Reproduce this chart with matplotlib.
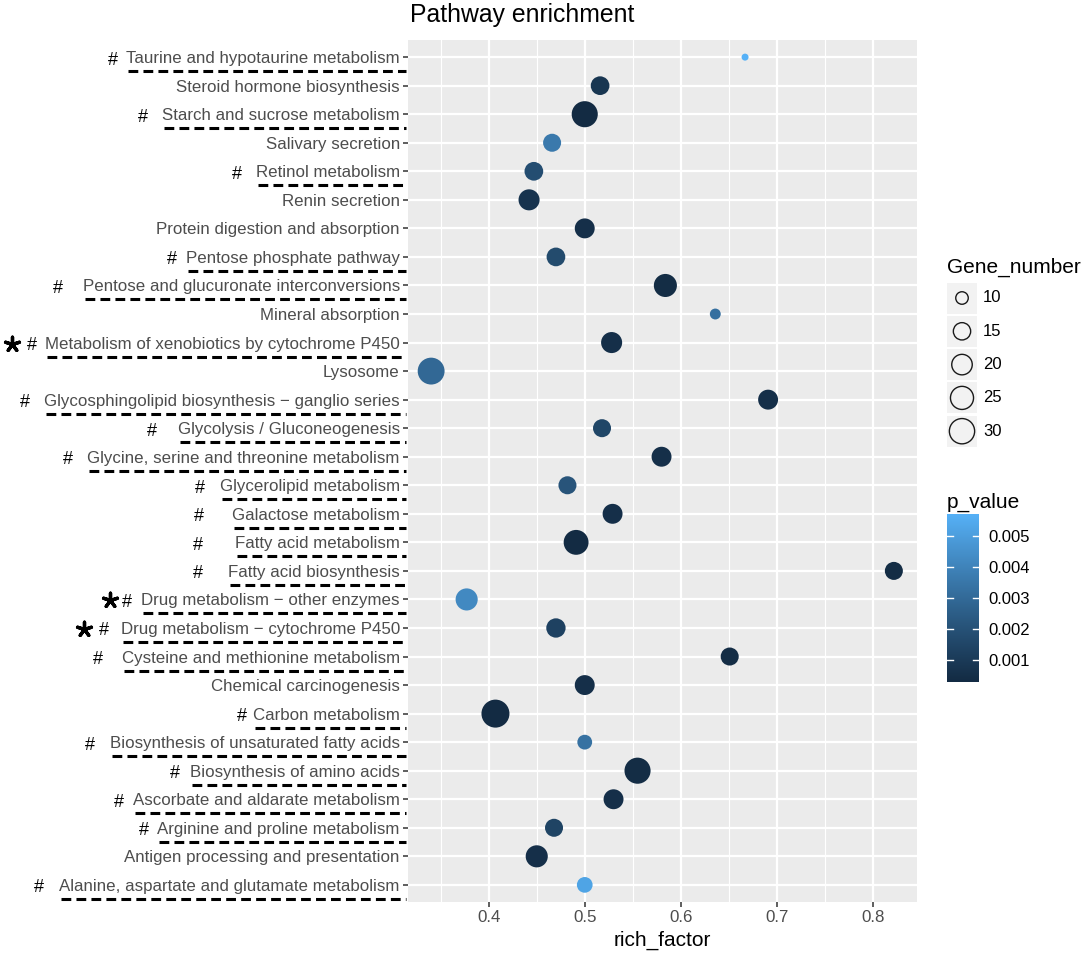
import numpy as np
import matplotlib
matplotlib.use('Agg')
import matplotlib.pyplot as plt
from matplotlib.colors import ListedColormap
from matplotlib.patches import Rectangle

plt.rcParams['font.family'] = ['Liberation Sans', 'DejaVu Sans']

# pathways, top to bottom as shown
pathways = [
    'Taurine and hypotaurine metabolism',
    'Steroid hormone biosynthesis',
    'Starch and sucrose metabolism',
    'Salivary secretion',
    'Retinol metabolism',
    'Renin secretion',
    'Protein digestion and absorption',
    'Pentose phosphate pathway',
    'Pentose and glucuronate interconversions',
    'Mineral absorption',
    'Metabolism of xenobiotics by cytochrome P450',
    'Lysosome',
    'Glycosphingolipid biosynthesis \u2212 ganglio series',
    'Glycolysis / Gluconeogenesis',
    'Glycine, serine and threonine metabolism',
    'Glycerolipid metabolism',
    'Galactose metabolism',
    'Fatty acid metabolism',
    'Fatty acid biosynthesis',
    'Drug metabolism \u2212 other enzymes',
    'Drug metabolism \u2212 cytochrome P450',
    'Cysteine and methionine metabolism',
    'Chemical carcinogenesis',
    'Carbon metabolism',
    'Biosynthesis of unsaturated fatty acids',
    'Biosynthesis of amino acids',
    'Ascorbate and aldarate metabolism',
    'Arginine and proline metabolism',
    'Antigen processing and presentation',
    'Alanine, aspartate and glutamate metabolism',
]
rich_factor = [0.667, 0.516, 0.500, 0.466, 0.447, 0.442, 0.500, 0.470, 0.584, 0.636,
               0.528, 0.340, 0.691, 0.518, 0.580, 0.482, 0.529, 0.491, 0.822, 0.377,
               0.470, 0.651, 0.500, 0.407, 0.500, 0.555, 0.530, 0.468, 0.450, 0.500]
gene_number = [8, 17, 32, 16, 17, 21, 19, 17, 25, 9,
               21, 34, 19, 16, 19, 16, 19, 29, 16, 23,
               18, 16, 19, 37, 12, 32, 19, 16, 23, 13]
p_value = [0.0057, 0.0008, 0.0003, 0.0036, 0.0018, 0.0007, 0.0005, 0.0017, 0.0004, 0.0032,
           0.0005, 0.0029, 0.0005, 0.0015, 0.0005, 0.0021, 0.0005, 0.0003, 0.0004, 0.0042,
           0.0013, 0.0004, 0.0005, 0.0003, 0.0033, 0.0004, 0.0005, 0.0014, 0.0005, 0.0052]
# hand-added marks in the figure
marks = ['#', '', '#', '', '#', '', '', '#', '#', '',
         '*#', '', '#', '#', '#', '#', '#', '#', '#', '*#',
         '*#', '#', '', '#', '#', '#', '#', '#', '', '#']
size_breaks = [10, 15, 20, 25, 30]
p_breaks = [0.001, 0.002, 0.003, 0.004, 0.005]
x_breaks = [0.4, 0.5, 0.6, 0.7, 0.8]

# where the hand-drawn '#' / '*' sit (pixel x)
hash_x = [113, 0, 143, 0, 237, 0, 0, 172, 58, 0,
          32, 0, 25, 152, 68, 200, 199, 198, 198, 127,
          104, 98, 0, 242, 90, 175, 119, 144, 0, 39]
star_x = {10: 12, 19: 110, 20: 84}

W, H, DPI = 1084, 956, 100


def lab_from_rgb(rgb):
    c = np.where(rgb <= 0.04045, rgb / 12.92, ((rgb + 0.055) / 1.055) ** 2.4)
    m = np.array([[0.4124, 0.3576, 0.1805], [0.2126, 0.7152, 0.0722], [0.0193, 0.1192, 0.9505]])
    xyz = m @ c / np.array([0.95047, 1.0, 1.08883])
    d = 6 / 29
    f = np.where(xyz > d ** 3, np.cbrt(xyz), xyz / (3 * d * d) + 4 / 29)
    return np.array([116 * f[1] - 16, 500 * (f[0] - f[1]), 200 * (f[1] - f[2])])


def rgb_from_lab(lab):
    fy_ = (lab[0] + 16) / 116
    f = np.array([fy_ + lab[1] / 500, fy_, fy_ - lab[2] / 200])
    d = 6 / 29
    xyz = np.where(f > d, f ** 3, 3 * d * d * (f - 4 / 29)) * np.array([0.95047, 1.0, 1.08883])
    m = np.array([[3.2406, -1.5372, -0.4986], [-0.9689, 1.8758, 0.0415], [0.0557, -0.2040, 1.0570]])
    c = m @ xyz
    c = np.where(c <= 0.0031308, 12.92 * c, 1.055 * np.clip(c, 0, None) ** (1 / 2.4) - 0.055)
    return np.clip(c, 0, 1)


def hex_rgb(h):
    return np.array([int(h[i:i + 2], 16) / 255 for i in (1, 3, 5)])


# ggplot-like gradient, interpolated in Lab
lo_lab = lab_from_rgb(hex_rgb('#132B43'))
hi_lab = lab_from_rgb(hex_rgb('#56B1F7'))
cmap = ListedColormap([rgb_from_lab(lo_lab + t * (hi_lab - lo_lab)) for t in np.linspace(0, 1, 256)])

g = np.array(gene_number, float)
rf = np.array(rich_factor)
pv = np.array(p_value)
n = len(pathways)
ypos = np.arange(n)[::-1]


def dot_px(v):
    return 7 + 21 * np.sqrt((np.asarray(v, float) - g.min()) / (g.max() - g.min()))


def dot_s(v):
    return (dot_px(v) * 72 / DPI) ** 2


fig = plt.figure(figsize=(W / DPI, H / DPI), dpi=DPI)
ax = fig.add_axes([408 / W, 1 - 902 / H, (917 - 408) / W, (902 - 40) / H])
norm = plt.Normalize(pv.min(), pv.max())
ax.scatter(rf, ypos, s=dot_s(g), c=pv, cmap=cmap, norm=norm, linewidths=0, zorder=3)

span = rf.max() - rf.min()
ax.set_xlim(rf.min() - 0.05 * span, rf.max() + 0.05 * span)
ax.set_ylim(-0.6, n - 0.4)
ax.set_facecolor('#EBEBEB')
for s in ax.spines.values():
    s.set_visible(False)
ax.set_xticks(x_breaks)
ax.set_xticklabels([f'{b:.1f}' for b in x_breaks])
minor = [b + 0.05 for b in [0.3] + x_breaks if ax.get_xlim()[0] < b + 0.05 < ax.get_xlim()[1]]
ax.set_xticks(minor, minor=True)
ax.set_yticks(ypos)
ax.set_yticklabels(pathways)
ax.grid(which='major', color='white', lw=1.6)
ax.grid(which='minor', axis='x', color='white', lw=0.8)
ax.set_axisbelow(True)
ax.tick_params(which='major', length=3.4, width=1.1, color='#333333', labelsize=12.2,
               labelcolor='#4D4D4D', pad=2.5)
ax.tick_params(which='minor', length=0)
ax.set_xlabel('rich_factor', fontsize=15, labelpad=4)

fig.text(410 / W, 1 - 22 / H, 'Pathway enrichment', fontsize=17.8, ha='left', va='baseline')

# overlay in picture pixels for hand-drawn marks and size legend
ov = fig.add_axes([0, 0, 1, 1], facecolor='none')
ov.set_xlim(0, W)
ov.set_ylim(H, 0)
ov.axis('off')

fig.canvas.draw()
renderer = fig.canvas.get_renderer()
labels = ax.get_yticklabels()
for i, mk in enumerate(marks):
    if not mk:
        continue
    bb = labels[i].get_window_extent(renderer)
    yc = H - ax.transData.transform((0, ypos[i]))[1]
    ov.plot([bb.x0 + 2, 406], [yc + 14, yc + 14], color='black', lw=2.2,
            linestyle=(0, (3.2, 1.7)), solid_capstyle='butt')
    ov.text(hash_x[i], yc + 3, '#', fontsize=13, ha='center', va='center', color='black')
    if '*' in mk:
        ov.scatter([star_x[i]], [yc + 1], s=110, marker=(5, 2, 0), color='black',
                   linewidths=2.4)

# size legend
ov.text(947, 267, 'Gene_number', fontsize=15, ha='left', va='center')
for k, b in enumerate(size_breaks):
    cy = 298 + 33.3 * k
    ov.add_patch(Rectangle((947, cy - 15.5), 30, 31, facecolor='#F2F2F2', edgecolor='none'))
    ov.scatter([962], [cy], s=dot_s(b), facecolors='none', edgecolors='#1A1A1A', linewidths=1)
    ov.text(983, cy, str(b), fontsize=12, ha='left', va='center')

# colour bar
ov.text(947, 502, 'p_value', fontsize=15, ha='left', va='center')
cax = fig.add_axes([947 / W, 1 - 682 / H, 32 / W, 168 / H])
grad = np.linspace(0, 1, 256).reshape(-1, 1)
cax.imshow(grad, aspect='auto', cmap=cmap, origin='lower',
           extent=[0, 1, pv.min(), pv.max()])
cax.set_xlim(0, 1)
cax.set_ylim(pv.min(), pv.max())
cax.set_xticks([])
cax.yaxis.tick_right()
cax.set_yticks(p_breaks)
cax.set_yticklabels([f'{b:.3f}' for b in p_breaks])
cax.tick_params(axis='y', length=0, pad=7, labelsize=12, labelcolor='black')
for b in p_breaks:
    cax.plot([0, 0.2], [b, b], color='white', lw=1)
    cax.plot([0.8, 1], [b, b], color='white', lw=1)
for s in cax.spines.values():
    s.set_visible(False)

fig.savefig('out.png', dpi=DPI)
plt.close(fig)
